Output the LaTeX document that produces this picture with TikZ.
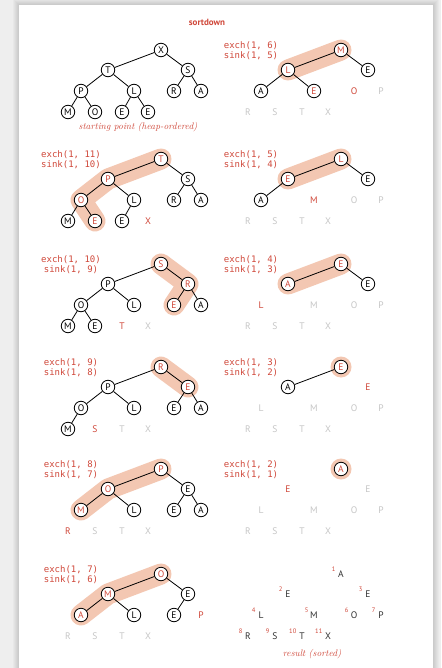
\documentclass[tikz,border=0pt]{standalone}
\usepackage{fontspec}
\usepackage{xcolor}
\usepackage{tikz}
\newfontfamily\heapfont{PT Sans}
\newfontfamily\tracefont{DejaVu Sans Mono}
\definecolor{sortred}{RGB}{208,72,58}
\definecolor{trailc}{RGB}{243,199,178}
\definecolor{doneg}{RGB}{198,198,198}
\definecolor{pageg}{RGB}{238,238,238}
\definecolor{resg}{RGB}{50,50,50}

% the 11 heap spots of one panel, root at (#2+161,#3)
\newcommand{\heapspots}[3]{%
  \foreach \i/\dx/\dy in {1/0/0,2/-53/20,3/27/20,4/-80/41,5/-27/41,6/13/41,
                          7/40/41,8/-93/62,9/-66/62,10/-39/62,11/-13/62}{
    \coordinate (#1-\i) at (#2+161+\dx,#3+\dy);
  }
}

\begin{document}
\begin{tikzpicture}[x=1pt, y=-1pt,
  heapnode/.style={circle, draw=black, fill=white, line width=0.8pt,
    minimum size=13.5pt, inner sep=0pt, font=\heapfont\fontsize{9.5}{10}\selectfont},
  sinknode/.style={heapnode, text=sortred},
  takenode/.style={inner sep=0pt, font=\heapfont\fontsize{9.5}{10}\selectfont, text=sortred},
  donenode/.style={inner sep=0pt, font=\heapfont\fontsize{9.5}{10}\selectfont, text=doneg},
  resnode/.style={inner sep=0pt, font=\heapfont\fontsize{9.5}{10}\selectfont, text=resg},
  rank/.style={inner sep=0pt, anchor=east, font=\heapfont\fontsize{6.5}{7}\selectfont, text=sortred},
  link/.style={line width=0.8pt},
  trail/.style={line width=21pt, draw=trailc, line cap=round, line join=round},
  trace/.style={inner sep=0pt, align=center, text=sortred,
    font=\tracefont\fontsize{9}{10}\selectfont},
  caption/.style={inner sep=0pt, text=sortred, font=\itshape\fontsize{9.5}{11}\selectfont}]
\useasboundingbox (0,0) rectangle (441,668);

% page and its shadow
\fill[pageg] (0,0) rectangle (441,668);
\foreach \k in {1,...,6}{
  \fill[black, opacity=0.025] (19-\k,5-\k) rectangle (433+\k,680);
}
\fill[white] (19,5) rectangle (433,680);

\node[inner sep=0pt, text=sortred, font=\heapfont\bfseries\fontsize{9}{10}\selectfont]
  (title) at (207,22) {sortdown};

% spots of all twelve panels
\heapspots{hp}{0}{50}    \heapspots{x6}{180}{50}
\heapspots{x11}{0}{159}  \heapspots{x5}{180}{159}
\heapspots{x10}{0}{264}  \heapspots{x4}{180}{264}
\heapspots{x9}{0}{367}   \heapspots{x3}{180}{367}
\heapspots{x8}{0}{469}   \heapspots{x2}{180}{469}
\heapspots{x7}{0}{574}   \heapspots{res}{180}{574}

% sink paths
\draw[trail] (x6-1) -- (x6-2);
\draw[trail] (x11-1) -- (x11-2) -- (x11-4) -- (x11-9);
\draw[trail] (x5-1) -- (x5-2);
\draw[trail] (x10-1) -- (x10-3) -- (x10-6);
\draw[trail] (x4-1) -- (x4-2);
\draw[trail] (x9-1) -- (x9-3);
\fill[trailc] (x3-1) circle (10.5);
\draw[trail] (x8-1) -- (x8-2) -- (x8-4);
\fill[trailc] (x2-1) circle (10.5);
\draw[trail] (x7-1) -- (x7-2) -- (x7-4);

% starting point
\foreach \i/\t in {1/X,2/T,3/S,4/P,5/L,6/R,7/A,8/M,9/O,10/E,11/E}
  \node[heapnode] (hp-n\i) at (hp-\i) {\t};
\foreach \a/\b in {1/2,1/3,2/4,2/5,3/6,3/7,4/8,4/9,5/10,5/11}
  \draw[link] (hp-n\a) -- (hp-n\b);
\node[caption] (hp-cap) at (138,127) {starting point (heap-ordered)};

% exch(1, 11)
\node[trace] (x11-lbl) at (71,160) {exch(1, 11)\\sink(1, 10)};
\foreach \i/\s/\t in {1/sinknode/T,2/sinknode/P,3/heapnode/S,4/sinknode/O,
    5/heapnode/L,6/heapnode/R,7/heapnode/A,8/heapnode/M,9/sinknode/E,
    10/heapnode/E,11/takenode/X}
  \node[\s] (x11-n\i) at (x11-\i) {\t};
\foreach \a/\b in {1/2,1/3,2/4,2/5,3/6,3/7,4/8,4/9,5/10}
  \draw[link] (x11-n\a) -- (x11-n\b);

% exch(1, 10)
\node[trace] (x10-lbl) at (71,265) {exch(1, 10)\\sink(1, 9)};
\foreach \i/\s/\t in {1/sinknode/S,2/heapnode/P,3/sinknode/R,4/heapnode/O,
    5/heapnode/L,6/sinknode/E,7/heapnode/A,8/heapnode/M,9/heapnode/E,
    10/takenode/T,11/donenode/X}
  \node[\s] (x10-n\i) at (x10-\i) {\t};
\foreach \a/\b in {1/2,1/3,2/4,2/5,3/6,3/7,4/8,4/9}
  \draw[link] (x10-n\a) -- (x10-n\b);

% exch(1, 9)
\node[trace] (x9-lbl) at (71,368) {exch(1, 9)\\sink(1, 8)};
\foreach \i/\s/\t in {1/sinknode/R,2/heapnode/P,3/sinknode/E,4/heapnode/O,
    5/heapnode/L,6/heapnode/E,7/heapnode/A,8/heapnode/M,9/takenode/S,
    10/donenode/T,11/donenode/X}
  \node[\s] (x9-n\i) at (x9-\i) {\t};
\foreach \a/\b in {1/2,1/3,2/4,2/5,3/6,3/7,4/8}
  \draw[link] (x9-n\a) -- (x9-n\b);

% exch(1, 8)
\node[trace] (x8-lbl) at (71,470) {exch(1, 8)\\sink(1, 7)};
\foreach \i/\s/\t in {1/sinknode/P,2/sinknode/O,3/heapnode/E,4/sinknode/M,
    5/heapnode/L,6/heapnode/E,7/heapnode/A,8/takenode/R,9/donenode/S,
    10/donenode/T,11/donenode/X}
  \node[\s] (x8-n\i) at (x8-\i) {\t};
\foreach \a/\b in {1/2,1/3,2/4,2/5,3/6,3/7}
  \draw[link] (x8-n\a) -- (x8-n\b);

% exch(1, 7)
\node[trace] (x7-lbl) at (71,575) {exch(1, 7)\\sink(1, 6)};
\foreach \i/\s/\t in {1/sinknode/O,2/sinknode/M,3/heapnode/E,4/sinknode/A,
    5/heapnode/L,6/heapnode/E,7/takenode/P,8/donenode/R,9/donenode/S,
    10/donenode/T,11/donenode/X}
  \node[\s] (x7-n\i) at (x7-\i) {\t};
\foreach \a/\b in {1/2,1/3,2/4,2/5,3/6}
  \draw[link] (x7-n\a) -- (x7-n\b);

% exch(1, 6)
\node[trace] (x6-lbl) at (251,51) {exch(1, 6)\\sink(1, 5)};
\foreach \i/\s/\t in {1/sinknode/M,2/sinknode/L,3/heapnode/E,4/heapnode/A,
    5/sinknode/E,6/takenode/O,7/donenode/P,8/donenode/R,9/donenode/S,
    10/donenode/T,11/donenode/X}
  \node[\s] (x6-n\i) at (x6-\i) {\t};
\foreach \a/\b in {1/2,1/3,2/4,2/5}
  \draw[link] (x6-n\a) -- (x6-n\b);

% exch(1, 5)
\node[trace] (x5-lbl) at (251,160) {exch(1, 5)\\sink(1, 4)};
\foreach \i/\s/\t in {1/sinknode/L,2/sinknode/E,3/heapnode/E,4/heapnode/A,
    5/takenode/M,6/donenode/O,7/donenode/P,8/donenode/R,9/donenode/S,
    10/donenode/T,11/donenode/X}
  \node[\s] (x5-n\i) at (x5-\i) {\t};
\foreach \a/\b in {1/2,1/3,2/4}
  \draw[link] (x5-n\a) -- (x5-n\b);

% exch(1, 4)
\node[trace] (x4-lbl) at (251,265) {exch(1, 4)\\sink(1, 3)};
\foreach \i/\s/\t in {1/sinknode/E,2/sinknode/A,3/heapnode/E,4/takenode/L,
    5/donenode/M,6/donenode/O,7/donenode/P,8/donenode/R,9/donenode/S,
    10/donenode/T,11/donenode/X}
  \node[\s] (x4-n\i) at (x4-\i) {\t};
\foreach \a/\b in {1/2,1/3}
  \draw[link] (x4-n\a) -- (x4-n\b);

% exch(1, 3)
\node[trace] (x3-lbl) at (251,368) {exch(1, 3)\\sink(1, 2)};
\foreach \i/\s/\t in {1/sinknode/E,2/heapnode/A,3/takenode/E,4/donenode/L,
    5/donenode/M,6/donenode/O,7/donenode/P,8/donenode/R,9/donenode/S,
    10/donenode/T,11/donenode/X}
  \node[\s] (x3-n\i) at (x3-\i) {\t};
\draw[link] (x3-n1) -- (x3-n2);

% exch(1, 2)
\node[trace] (x2-lbl) at (251,470) {exch(1, 2)\\sink(1, 1)};
\foreach \i/\s/\t in {1/sinknode/A,2/takenode/E,3/donenode/E,4/donenode/L,
    5/donenode/M,6/donenode/O,7/donenode/P,8/donenode/R,9/donenode/S,
    10/donenode/T,11/donenode/X}
  \node[\s] (x2-n\i) at (x2-\i) {\t};

% result
\foreach \i/\t in {1/A,2/E,3/E,4/L,5/M,6/O,7/P,8/R,9/S,10/T,11/X}{
  \node[resnode] (res-n\i) at (res-\i) {\t};
  \node[rank] (res-r\i) at ([shift={(-5.5,-5)}]res-\i) {\i};
}
\node[caption] (res-cap) at (312,654) {result (sorted)};
\end{tikzpicture}
\end{document}
